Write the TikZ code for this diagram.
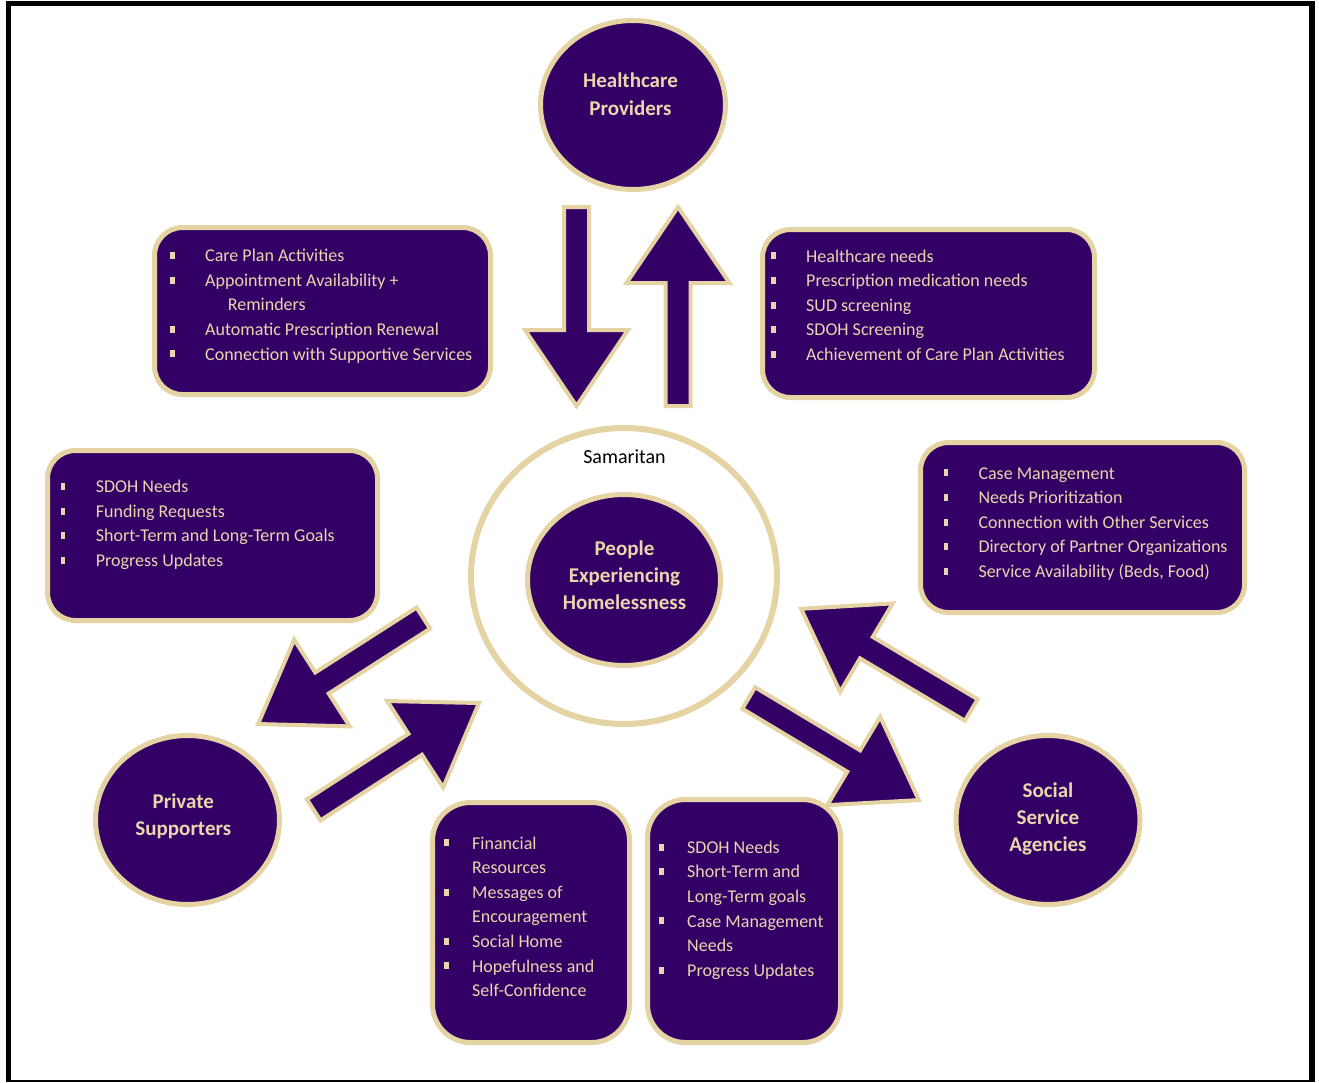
\documentclass[tikz,border=0pt]{standalone}
\usepackage{fontspec}
\setmainfont{Carlito}
\usetikzlibrary{shapes.geometric,calc}
\definecolor{pur}{HTML}{330066}
\definecolor{gold}{HTML}{E6D3A3}
\definecolor{txt}{HTML}{E8D6AC}
\newcommand\bul{\makebox[35pt][l]{\rule[2.7pt]{4.5pt}{7pt}}}
\newcommand\buls{\makebox[28pt][l]{\rule[2.7pt]{4.5pt}{7pt}}}
\newcommand\blockarrow[2]{%
  \coordinate (bab) at ($(#2)!76pt!(#1)$);
  \draw[blk] ($(#1)!12.5pt!90:(#2)$) -- ($(bab)!12.5pt!90:(#2)$) -- ($(bab)!51.5pt!90:(#2)$)
    -- (#2) -- ($(bab)!51.5pt!-90:(#2)$) -- ($(bab)!12.5pt!-90:(#2)$) -- ($(#1)!12.5pt!-90:(#2)$) -- cycle;}
\begin{document}
\begin{tikzpicture}[x=1pt,y=-1pt,
  box/.style={draw=gold, fill=pur, line width=5pt, rounded corners=28pt, inner sep=0pt},
  boxb/.style={box, rounded corners=38pt},
  circ/.style={ellipse, draw=gold, fill=pur, line width=5pt, inner sep=0pt},
  ctext/.style={anchor=base, inner sep=0pt, text=txt, font=\fontsize{21}{27.3}\selectfont\bfseries},
  ltext/.style={anchor=base west, inner sep=0pt, text=txt, font=\fontsize{18}{24.6}\selectfont},
  blk/.style={fill=pur, draw=gold, line width=4pt, line join=miter}]
\useasboundingbox (0,0) rectangle (1319,1082);
% frame
\fill[black] (6,1) rectangle (1315,6);
\fill[black] (6,1) rectangle (11,1082);
\fill[black] (1309,1) rectangle (1315,1082);
\fill[black] (6,1080.3) rectangle (1315,1082);

% Samaritan ring
\node[ellipse, draw=gold, line width=6pt, fill=white, minimum width=306, minimum height=296, inner sep=0pt] (ring) at (624,576) {};
\node[anchor=base, inner sep=0pt, font=\fontsize{20}{24}\selectfont] (sam) at (624.5,463.3) {Samaritan};

% circles
\node[circ, minimum width=185, minimum height=169] (hp) at (633,105) {};
\node[circ, minimum width=193, minimum height=171] (pe) at (624,580) {};
\node[circ, minimum width=184, minimum height=169] (ps) at (187.5,820) {};
\node[circ, minimum width=184, minimum height=169] (ss) at (1048,820) {};
\node[ctext] (hpt) at (630.5,87.7) {\begin{tabular}[t]{@{}c@{}}Healthcare\\Providers\end{tabular}};
\node[ctext] (pet) at (624.5,555) {\begin{tabular}[t]{@{}c@{}}People\\Experiencing\\Homelessness\end{tabular}};
\node[ctext] (pst) at (183.3,808.3) {\begin{tabular}[t]{@{}c@{}}Private\\Supporters\end{tabular}};
\node[ctext] (sst) at (1048,797) {\begin{tabular}[t]{@{}c@{}}Social\\Service\\Agencies\end{tabular}};

% boxes
\node[box, minimum width=336, minimum height=167] (b1) at (322.5,311) {};
\node[box, minimum width=332, minimum height=168] (b2) at (928.5,313.5) {};
\node[box, minimum width=330, minimum height=170] (b3) at (212.5,535.5) {};
\node[box, minimum width=324, minimum height=170] (b4) at (1082.5,527.5) {};
\node[boxb, minimum width=197, minimum height=240] (b5) at (531,922.5) {};
\node[boxb, minimum width=193, minimum height=243] (b6) at (744,921) {};

\node[ltext] (b1t) at (170,261.7) {\begin{tabular}[t]{@{}l@{}}
\bul Care Plan Activities\\
\bul Appointment Availability +\\
\hspace*{57.7pt}Reminders\\
\bul Automatic Prescription Renewal\\
\bul Connection with Supportive Services\end{tabular}};
\node[ltext] (b2t) at (771,262) {\begin{tabular}[t]{@{}l@{}}
\bul Healthcare needs\\
\bul Prescription medication needs\\
\bul SUD screening\\
\bul SDOH Screening\\
\bul Achievement of Care Plan Activities\end{tabular}};
\node[ltext] (b3t) at (60.7,492.7) {\begin{tabular}[t]{@{}l@{}}
\bul SDOH Needs\\
\bul Funding Requests\\
\bul Short-Term and Long-Term Goals\\
\bul Progress Updates\end{tabular}};
\node[ltext] (b4t) at (943.3,479) {\begin{tabular}[t]{@{}l@{}}
\bul Case Management\\
\bul Needs Prioritization\\
\bul Connection with Other Services\\
\bul Directory of Partner Organizations\\
\bul Service Availability (Beds, Food)\end{tabular}};
\node[ltext] (b5t) at (444,849) {\begin{tabular}[t]{@{}l@{}}
\buls Financial\\
\hspace*{28pt}Resources\\
\buls Messages of\\
\hspace*{28pt}Encouragement\\
\buls Social Home\\
\buls Hopefulness and\\
\hspace*{28pt}Self-Confidence\end{tabular}};
\node[ltext] (b6t) at (659,853.3) {\begin{tabular}[t]{@{}l@{}}
\buls SDOH Needs\\
\buls Short-Term and\\
\hspace*{28pt}Long-Term goals\\
\buls Case Management\\
\hspace*{28pt}Needs\\
\buls Progress Updates\end{tabular}};

% block arrows
\coordinate (a1t) at (576.5,207);   \coordinate (a1h) at (576.5,406);
\coordinate (a2t) at (678,406);     \coordinate (a2h) at (678,207);
\coordinate (a3t) at (423.3,618.1); \coordinate (a3h) at (258,724);
\coordinate (a4t) at (313.7,809.9); \coordinate (a4h) at (479,703);
\coordinate (a5t) at (748.7,698);   \coordinate (a5h) at (918.9,800.1);
\coordinate (a6t) at (971.3,710);   \coordinate (a6h) at (801.1,608.8);
\blockarrow{a1t}{a1h}
\blockarrow{a2t}{a2h}
\blockarrow{a3t}{a3h}
\blockarrow{a4t}{a4h}
\blockarrow{a5t}{a5h}
\blockarrow{a6t}{a6h}
\end{tikzpicture}
\end{document}
